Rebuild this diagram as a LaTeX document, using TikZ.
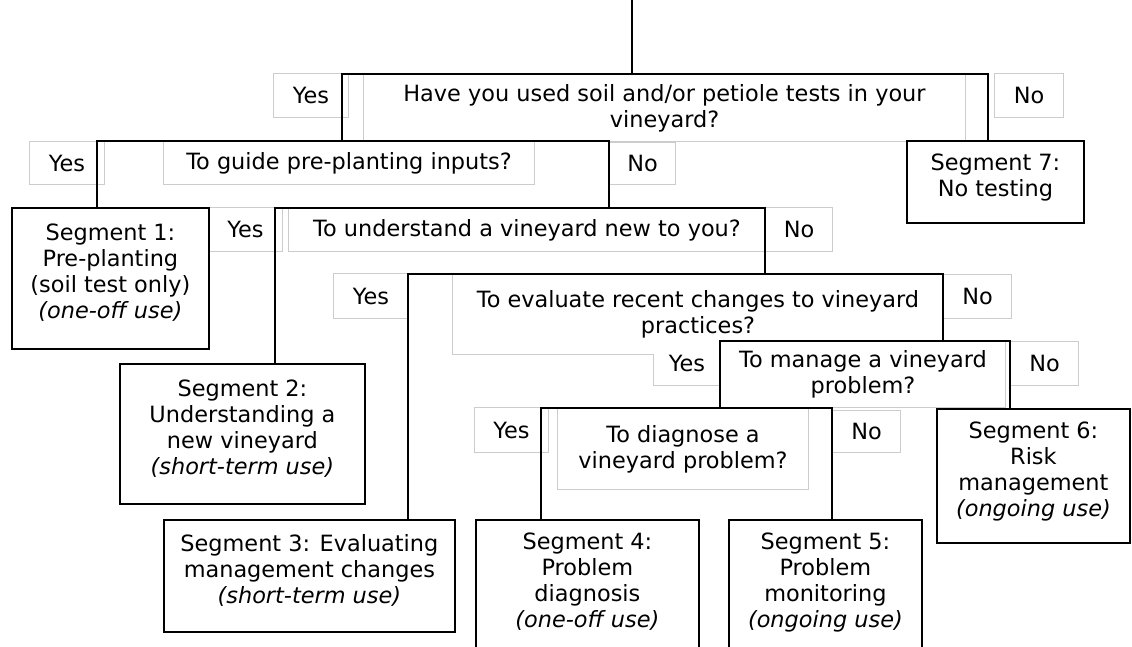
\documentclass[tikz,border=0pt]{standalone}
\usepackage{fontspec}
\setmainfont{DejaVu Sans}[ItalicFont={DejaVu Sans Oblique}]

\begin{document}
\begin{tikzpicture}[x=1pt,y=-1pt,inner sep=0pt,font=\fontsize{22.4}{26}\selectfont,
    sz/.style 2 args={minimum width=#1pt,minimum height=#2pt},
    lbl/.style={draw=gray!40,line width=1pt,fill=white,anchor=north west,align=center},
    seg/.style={draw=black,line width=1.8pt,fill=white,anchor=north west,align=center,text depth=14pt},
    wire/.style={draw=black,line width=1.8pt}]
    \useasboundingbox (0,0) rectangle (1132,646);
    \clip (0,0) rectangle (1132,646);

    \node[lbl,sz={75}{44}] (yes1) at (273,73) {Yes};
    \node[lbl,sz={602}{67}] (q1) at (363,74) {Have you used soil and/or petiole tests in your\\vineyard?};
    \node[lbl,sz={69}{44}] (no1) at (994,73) {No};
    \node[lbl,sz={75}{43}] (yes2) at (29,141) {Yes};
    \node[lbl,sz={371}{43}] (q2) at (163,141) {To guide pre-planting inputs?};
    \node[lbl,sz={66}{42}] (no2) at (609,142) {No};
    \node[lbl,sz={74}{44}] (yes3) at (208,207) {Yes};
    \node[lbl,sz={477}{43}] (q3) at (288,208) {To understand a vineyard new to you?};
    \node[lbl,sz={67}{44}] (no3) at (765,207) {No};
    \node[lbl,sz={75}{45}] (yes4) at (333,273) {Yes};
    \node[lbl,sz={491}{80}] (q4) at (452,274) {To evaluate recent changes to vineyard\\practices?};
    \node[lbl,sz={68}{44}] (no4) at (943,274) {No};
    \node[lbl,sz={67}{43},draw=none] (yes5) at (653,341) {Yes};
    \draw[draw=gray!40,line width=1pt] (yes5.west |- q4.south) |- (yes5.south east);
    \node[lbl,sz={285}{66}] (q5) at (720,341) {To manage a vineyard\\problem?};
    \node[lbl,sz={68}{44}] (no5) at (1010,341) {No};
    \node[lbl,sz={74}{45}] (yes6) at (474,407) {Yes};
    \node[lbl,sz={251}{81}] (q6) at (557,408) {To diagnose a\\vineyard problem?};
    \node[lbl,sz={68}{42}] (no6) at (832,410) {No};

    \node[seg,sz={197}{141}] (s1) at (11,207) {Segment 1:\\Pre-planting\\(soil test only)\\\textit{(one-off use)}};
    \node[seg,sz={245}{140}] (s2) at (119,363) {Segment 2:\\Understanding a\\new vineyard\\\textit{(short-term use)}};
    \node[seg,sz={291}{112}] (s3) at (163,519) {Segment 3: Evaluating\\management changes\\\textit{(short-term use)}};
    \node[seg,sz={223}{134}] (s4) at (475,519) {Segment 4:\\Problem\\diagnosis\\\textit{(one-off use)}};
    \node[seg,sz={193}{134}] (s5) at (728,519) {Segment 5:\\Problem\\monitoring\\\textit{(ongoing use)}};
    \node[seg,sz={193}{134}] (s6) at (936,408) {Segment 6:\\Risk\\management\\\textit{(ongoing use)}};
    \node[seg,sz={177}{82}] (s7) at (906,140) {Segment 7:\\No testing};

    \coordinate (stem) at (632,0);
    \coordinate (b1l) at (342,74); \coordinate (b1r) at (988,74);
    \coordinate (b2l) at (97,141); \coordinate (b2r) at (609,141);
    \coordinate (b3l) at (275,208); \coordinate (b3r) at (765,208);
    \coordinate (b4l) at (408,274); \coordinate (b4r) at (943,274);
    \coordinate (b5l) at (720,341); \coordinate (b5r) at (1010,341);
    \coordinate (b6l) at (541,408); \coordinate (b6r) at (832,408);

    \draw[wire] (stem) -- (stem |- b1l);
    \draw[wire] (b1l |- b2l) -- (b1l) -- (b1r) -- (b1r |- s7.north);
    \draw[wire] (b2l |- s1.north) -- (b2l) -- (b2r) -- (b2r |- b3l);
    \draw[wire] (b3l |- s2.north) -- (b3l) -- (b3r) -- (b3r |- b4l);
    \draw[wire] (b4l |- s3.north) -- (b4l) -- (b4r) -- (b4r |- b5l);
    \draw[wire] (b5l |- b6l) -- (b5l) -- (b5r) -- (b5r |- s6.north);
    \draw[wire] (b6l |- s4.north) -- (b6l) -- (b6r) -- (b6r |- s5.north);
\end{tikzpicture}
\end{document}
